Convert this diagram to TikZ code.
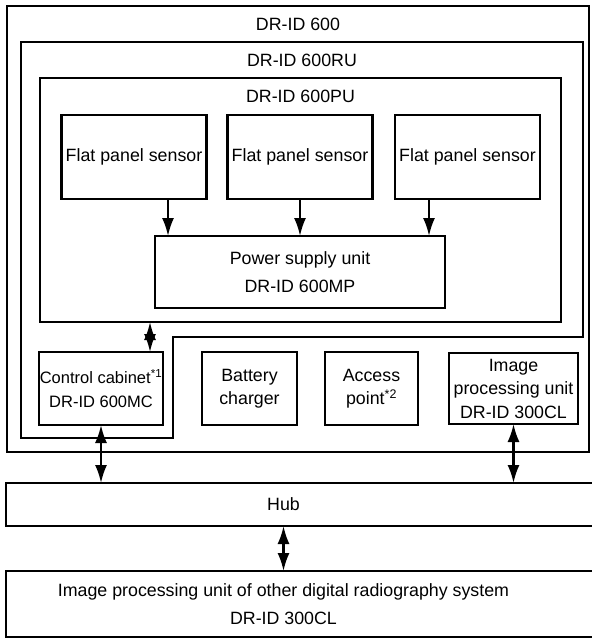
\documentclass[tikz,border=0pt]{standalone}
\usepackage{fontspec}
\setmainfont{Liberation Sans}
\usetikzlibrary{positioning,arrows.meta}
\tikzset{node distance=21pt, auto,
  frame/.style={draw, line width=2.2pt, inner sep=0pt, outer sep=0pt},
  unit/.style={draw, line width=2.2pt, align=center, inner sep=0pt, outer sep=0pt, minimum height=73pt},
  sensor/.style={unit, minimum width=145pt, minimum height=84pt},
  title/.style={inner sep=0pt},
  tall/.style={font=\fontsize{17.8}{28}\selectfont},
  link/.style={line width=2.2pt, -{Latex[length=18pt,width=12pt]}},
  dlink/.style={line width=2.2pt, {Latex[length=18pt,width=12pt]}-{Latex[length=18pt,width=12pt]}}}

\begin{document}
\begin{tikzpicture}[x=1pt, y=-1pt, font=\fontsize{17.8}{23.5}\selectfont]
\useasboundingbox (0,0) rectangle (591,639);

% enclosures
\node[frame, minimum width=582pt, minimum height=446pt] (fr600) at (298,229) {};
\node[frame, minimum width=521pt, minimum height=244pt] (frPU) at (300.5,200) {};
\draw[frame] (21,42) -- (583,42) -- (583,337) -- (173,337) -- (173,438) -- (21,438) -- cycle;

\node[title] (t600) at ([yshift=-18pt]fr600.north) {DR-ID 600};
\node[title] (tRU) at (302,60) {DR-ID 600RU};
\node[title] (tPU) at ([yshift=-18pt]frPU.north) {DR-ID 600PU};

% sensors and power supply
\node[sensor] (s1) at (134,157) {Flat panel sensor};
\node[sensor] (s2) [right=21pt of s1] {Flat panel sensor};
\node[sensor] (s3) [right=22.5pt of s2] {Flat panel sensor};
\node[unit, tall, minimum width=290pt, minimum height=72pt] (pw) [below=37pt of s2] {Power supply unit\\DR-ID 600MP};

% lower row
\node[unit, minimum width=124pt, font=\fontsize{16.5}{23.5}\selectfont] (ctrl) at (101,388.5) {Control cabinet\textsuperscript{*1}\\DR-ID 600MC};
\node[unit, minimum width=95pt] (bat) [right=39pt of ctrl] {Battery\\charger};
\node[unit, minimum width=93pt] (ap) [right=28pt of bat] {Access\\point\textsuperscript{*2}};
\node[unit, minimum width=129pt, minimum height=71pt] (ipu) [right=31pt of ap] {Image\\processing unit\\DR-ID 300CL};

% network
\node[unit, minimum width=591pt, minimum height=43pt, label={[xshift=-18pt]center:Hub}] (hub) at (301.5,504.5) {};
\node[unit, minimum width=591pt, minimum height=66pt,
  label={[xshift=-18pt, align=center, tall]center:Image processing unit of other digital radiography system\\DR-ID 300CL}] (other) at (301.5,604) {};

\draw[link] ([xshift=34pt]s1.south) -- ([xshift=34pt]s1.south |- pw.north);
\draw[link] (s2) -- (pw);
\draw[link] ([xshift=-38.5pt]s3.south) -- ([xshift=-38.5pt]s3.south |- pw.north);
\draw[dlink] ([xshift=49pt]ctrl.north) -- ([xshift=49pt]ctrl.north |- frPU.south);
\draw[dlink] (ctrl.south) -- (ctrl.south |- hub.north);
\draw[dlink] (ipu.south) -- (ipu.south |- hub.north);
\draw[dlink] ([xshift=-18pt]hub.south) -- ([xshift=-18pt]hub.south |- other.north);

\end{tikzpicture}
\end{document}
